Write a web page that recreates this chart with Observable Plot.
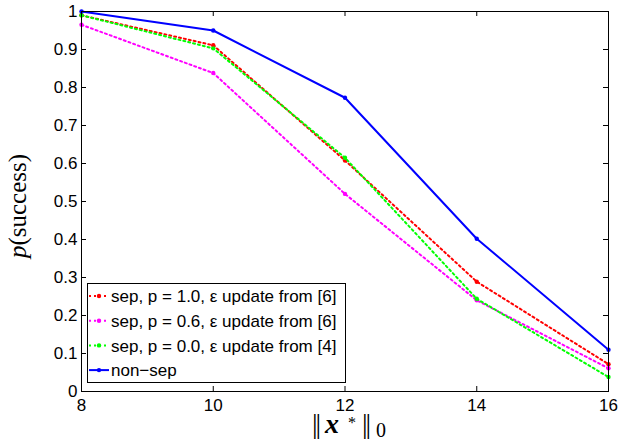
<!DOCTYPE html>
<html><head><meta charset="utf-8">
<script src="https://cdn.jsdelivr.net/npm/d3@7"></script>
<script src="https://cdn.jsdelivr.net/npm/@observablehq/plot@0.6"></script>
<style>body{margin:0;background:#fff;} #chart svg{display:block;}</style>
</head><body><div id="chart"></div>
<script>
const sparsity = [8, 10, 12, 14, 16];
const sepP10 = [0.99, 0.911, 0.608, 0.289, 0.072];
const sepP06 = [0.965, 0.838, 0.52, 0.24, 0.061];
const sepP00 = [0.99, 0.903, 0.615, 0.244, 0.038];
const nonSep = [1.0, 0.95, 0.773, 0.402, 0.11];
const seriesNames = ["sep, p = 1.0, ε update from [6]", "sep, p = 0.6, ε update from [6]", "sep, p = 0.0, ε update from [4]", "non−sep"];
const seriesValues = [sepP10, sepP06, sepP00, nonSep];
const seriesColors = ["#ff0000", "#ff00ff", "#00ff00", "#0000ff"];
const seriesDash = ["2,3", "2,3", "2,3", null];
const xTicks = [8, 10, 12, 14, 16];
const yTicks = [0, 0.1, 0.2, 0.3, 0.4, 0.5, 0.6, 0.7, 0.8, 0.9, 1];

const font = "'Liberation Sans', Arial, Helvetica, sans-serif";
const serif = "'Liberation Serif', 'Times New Roman', serif";
const W = 618, H = 442, mL = 81, mR = 10, mT = 11, mB = 51;
const plotW = W - mL - mR, plotH = H - mT - mB, tickLen = 5;

const marks = [];
seriesNames.forEach((name, i) => {
  const rows = sparsity.map((x, j) => ({x, y: seriesValues[i][j], name}));
  marks.push(Plot.line(rows, {x: "x", y: "y", stroke: seriesColors[i], strokeWidth: 2, strokeDasharray: seriesDash[i] || undefined}));
  marks.push(Plot.dot(rows, {x: "x", y: "y", r: 2.2, fill: seriesColors[i], stroke: "none"}));
});

const chart = Plot.plot({
  width: W, height: H,
  marginLeft: mL, marginRight: mR, marginTop: mT, marginBottom: mB,
  style: {fontFamily: font, fontSize: "17px", color: "#000", background: "#fff"},
  x: {domain: [8, 16], ticks: xTicks},
  y: {domain: [0, 1], ticks: yTicks},
  marks: [
    Plot.axisX({anchor: "bottom", ticks: xTicks, tickSize: 0, tickPadding: 7, tickFormat: d => String(d), label: null, fontSize: 17}),
    Plot.axisY({anchor: "left", ticks: yTicks, tickSize: 0, tickPadding: 4, tickFormat: d => String(d), label: null, fontSize: 17}),
    Plot.tickX(xTicks, {x: d => d, stroke: "#000", insetTop: plotH - tickLen}),
    Plot.tickX(xTicks, {x: d => d, stroke: "#000", insetBottom: plotH - tickLen}),
    Plot.tickY(yTicks, {y: d => d, stroke: "#000", insetRight: plotW - tickLen}),
    Plot.tickY(yTicks, {y: d => d, stroke: "#000", insetLeft: plotW - tickLen}),
    ...marks,
    Plot.frame({stroke: "#000", strokeWidth: 1})
  ]
});
document.getElementById("chart").appendChild(chart);

const svg = d3.select(chart);
svg.selectAll("g[aria-label='x-axis tick label'], g[aria-label='y-axis tick label']")
  .attr("font-size", 17).style("font-size", "17px");
// Legend
const lg = svg.append("g").attr("text-anchor", "start");
lg.append("rect").attr("x", 87.5).attr("y", 283.5).attr("width", 258).attr("height", 99)
  .attr("fill", "#fff").attr("stroke", "#000").attr("stroke-width", 1);
seriesNames.forEach((name, i) => {
  const cy = 296 + i * 24.7;
  lg.append("line").attr("x1", 89).attr("x2", 109).attr("y1", cy).attr("y2", cy)
    .attr("stroke", seriesColors[i]).attr("stroke-width", 2)
    .attr("stroke-dasharray", seriesDash[i] || null);
  lg.append("circle").attr("cx", 99).attr("cy", cy).attr("r", 2.2).attr("fill", seriesColors[i]);
  lg.append("text").attr("x", 111).attr("y", cy).attr("dy", "0.36em").attr("text-anchor", "start")
    .attr("font-family", font).attr("font-size", 17).attr("fill", "#000").text(name);
});
// Y label
const yl = svg.append("text").attr("transform", "translate(26,206) rotate(-90)")
  .attr("text-anchor", "middle").attr("font-family", serif)
  .attr("font-size", 25).attr("fill", "#000");
yl.append("tspan").attr("font-style", "italic").text("p");
yl.append("tspan").text("(success)");
// X label
const xl = svg.append("text").attr("y", 433).attr("text-anchor", "start")
  .attr("font-family", serif).attr("font-size", 28).attr("fill", "#000");
xl.append("tspan").attr("x", 312).attr("letter-spacing", -2).text("||");
xl.append("tspan").attr("x", 325).attr("font-style", "italic").attr("font-weight", "bold").text("x");
xl.append("tspan").attr("x", 348).attr("font-size", 16).attr("dy", -5).text("*");
xl.append("tspan").attr("x", 362).attr("dy", 5).attr("letter-spacing", -2).text("||");
xl.append("tspan").attr("x", 376).attr("font-size", 20).attr("dy", 4).text("0");
</script>
</body></html>
